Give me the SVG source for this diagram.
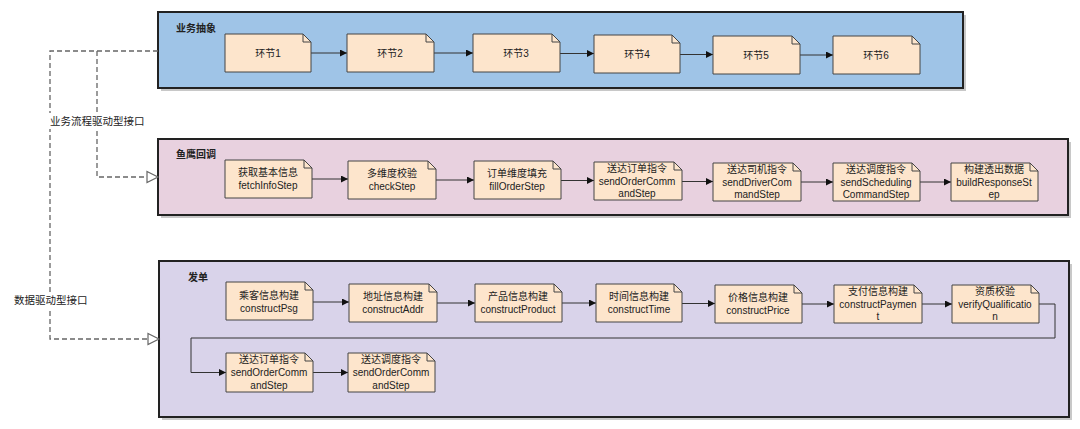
<svg xmlns="http://www.w3.org/2000/svg" width="1080" height="429" viewBox="0 0 1080 429">
<style>
text{font-family:"Liberation Sans","Noto Sans CJK SC",sans-serif;font-size:10px;fill:#222;text-anchor:middle;dominant-baseline:central}
.title{font-weight:bold;text-anchor:start}
.lbl{font-size:10.5px;text-anchor:start}
.cont{stroke:#222;stroke-width:2}
.shadow{fill:#9a9a9a;opacity:.55}
.node{fill:#fde5cc;stroke:#444;stroke-width:1}
.fold{fill:none;stroke:#444;stroke-width:1}
.conn{fill:none;stroke:#333;stroke-width:1;marker-end:url(#arr)}
.dash{fill:none;stroke:#666;stroke-width:1.3;stroke-dasharray:5,3}
</style>
<defs>
<marker id="arr" viewBox="0 0 10 10" refX="10" refY="5" markerWidth="7" markerHeight="7" markerUnits="userSpaceOnUse" orient="auto"><path d="M0,0 L10,5 L0,10 Z" fill="#111"/></marker>
<symbol id="note" overflow="visible"><path d="M0,0 H79 L87,8 V38 H0 Z"/></symbol>
</defs>
<rect width="1080" height="429" fill="#fff"/>

<g id="c-yewu">
<rect x="161" y="15" width="805" height="76" class="shadow"/>
<rect x="158" y="12" width="805" height="76" fill="#9fc4e7" class="cont"/>
<text x="176" y="28" class="title">业务抽象</text>
</g>
<g id="c-yuying">
<rect x="161" y="142" width="910" height="76" class="shadow"/>
<rect x="158" y="139" width="910" height="76" fill="#e8d1df" class="cont"/>
<text x="176" y="154" class="title">鱼鹰回调</text>
</g>
<g id="c-fadan">
<rect x="162" y="264" width="910" height="156" class="shadow"/>
<rect x="159" y="261" width="910" height="156" fill="#d9d3ea" class="cont"/>
<text x="188" y="277" class="title">发单</text>
</g>

<g id="connectors">
<path class="conn" d="M311,53 H347"/>
<path class="conn" d="M434,53 H473"/>
<path class="conn" d="M560,53.5 H594"/>
<path class="conn" d="M680,54.5 H713"/>
<path class="conn" d="M800,55 H833"/>

<path class="conn" d="M312,179 H348"/>
<path class="conn" d="M436,180 H474"/>
<path class="conn" d="M561,180.5 H594"/>
<path class="conn" d="M682,181.5 H713"/>
<path class="conn" d="M801,182 H833"/>
<path class="conn" d="M920,182 H951"/>

<path class="conn" d="M313,302 H349"/>
<path class="conn" d="M437,303 H475"/>
<path class="conn" d="M562,303 H596"/>
<path class="conn" d="M682,303.5 H715"/>
<path class="conn" d="M802,304 H834"/>
<path class="conn" d="M922,304 H952"/>
<path class="conn" d="M1039,304 H1055 V338 H191 V372.5 H226"/>
<path class="conn" d="M313,372.5 H348"/>

<path class="dash" d="M158,51 H50 V339 H148"/>
<path class="dash" d="M97,51 V177 H148"/>
<path d="M147,171.5 L158,177 L147,182.5 Z" fill="#fff" stroke="#666" stroke-width="1.2"/>
<path d="M148,333.5 L159,339 L148,344.5 Z" fill="#fff" stroke="#666" stroke-width="1.2"/>
<rect x="49" y="113" width="96" height="16" fill="#fff"/>
<text x="50" y="121" class="lbl">业务流程驱动型接口</text>
<rect x="13" y="292" width="75" height="16" fill="#fff"/>
<text x="14" y="300" class="lbl">数据驱动型接口</text>
</g>

<g id="n1"><path class="node" d="M225,34 H303 L311,42 V72 H225 Z"/><path class="fold" d="M303,34 V42 H311"/><text x="268" y="53">环节1</text></g>
<g id="n2"><path class="node" d="M347,34 H426 L434,42 V72 H347 Z"/><path class="fold" d="M426,34 V42 H434"/><text x="390" y="53">环节2</text></g>
<g id="n3"><path class="node" d="M473,34 H552 L560,42 V72 H473 Z"/><path class="fold" d="M552,34 V42 H560"/><text x="516" y="53">环节3</text></g>
<g id="n4"><path class="node" d="M594,35 H672 L680,43 V73 H594 Z"/><path class="fold" d="M672,35 V43 H680"/><text x="637" y="54">环节4</text></g>
<g id="n5"><path class="node" d="M713,36 H792 L800,44 V74 H713 Z"/><path class="fold" d="M792,36 V44 H800"/><text x="756" y="55">环节5</text></g>
<g id="n6"><path class="node" d="M833,36 H912 L920,44 V74 H833 Z"/><path class="fold" d="M912,36 V44 H920"/><text x="876" y="55">环节6</text></g>

<g id="a1"><path class="node" d="M225,160 H304 L312,168 V198 H225 Z"/><path class="fold" d="M304,160 V168 H312"/><text x="268" y="172.5">获取基本信息</text><text x="268" y="185">fetchInfoStep</text></g>
<g id="a2"><path class="node" d="M348,161 H428 L436,169 V199 H348 Z"/><path class="fold" d="M428,161 V169 H436"/><text x="392" y="173.5">多维度校验</text><text x="392" y="186">checkStep</text></g>
<g id="a3"><path class="node" d="M474,161 H553 L561,169 V199 H474 Z"/><path class="fold" d="M553,161 V169 H561"/><text x="517" y="173.5">订单维度填充</text><text x="517" y="186">fillOrderStep</text></g>
<g id="a4"><path class="node" d="M594,162 H674 L682,170 V200 H594 Z"/><path class="fold" d="M674,162 V170 H682"/><text x="637" y="168.5">送达订单指令</text><text x="637" y="181">sendOrderComm</text><text x="637" y="193">andStep</text></g>
<g id="a5"><path class="node" d="M713,163 H793 L801,171 V201 H713 Z"/><path class="fold" d="M793,163 V171 H801"/><text x="757" y="169">送达司机指令</text><text x="757" y="182">sendDriverCom</text><text x="757" y="194">mandStep</text></g>
<g id="a6"><path class="node" d="M833,163 H912 L920,171 V201 H833 Z"/><path class="fold" d="M912,163 V171 H920"/><text x="876" y="169">送达调度指令</text><text x="876" y="182">sendScheduling</text><text x="876" y="194">CommandStep</text></g>
<g id="a7"><path class="node" d="M951,163 H1030 L1038,171 V201 H951 Z"/><path class="fold" d="M1030,163 V171 H1038"/><text x="994" y="169">构建透出数据</text><text x="994" y="182">buildResponseSt</text><text x="994" y="194">ep</text></g>

<g id="b1"><path class="node" d="M226,282 H305 L313,290 V320 H226 Z"/><path class="fold" d="M305,282 V290 H313"/><text x="269" y="295">乘客信息构建</text><text x="269" y="308">constructPsg</text></g>
<g id="b2"><path class="node" d="M349,284 H429 L437,292 V322 H349 Z"/><path class="fold" d="M429,284 V292 H437"/><text x="393" y="296.5">地址信息构建</text><text x="393" y="309">constructAddr</text></g>
<g id="b3"><path class="node" d="M475,284 H554 L562,292 V322 H475 Z"/><path class="fold" d="M554,284 V292 H562"/><text x="518" y="296.5">产品信息构建</text><text x="518" y="309">constructProduct</text></g>
<g id="b4"><path class="node" d="M596,284 H674 L682,292 V322 H596 Z"/><path class="fold" d="M674,284 V292 H682"/><text x="639" y="296.5">时间信息构建</text><text x="639" y="309">constructTime</text></g>
<g id="b5"><path class="node" d="M715,285 H794 L802,293 V323 H715 Z"/><path class="fold" d="M794,285 V293 H802"/><text x="758" y="297.5">价格信息构建</text><text x="758" y="310">constructPrice</text></g>
<g id="b6"><path class="node" d="M834,285 H914 L922,293 V323 H834 Z"/><path class="fold" d="M914,285 V293 H922"/><text x="878" y="291.5">支付信息构建</text><text x="878" y="304">constructPaymen</text><text x="878" y="316">t</text></g>
<g id="b7"><path class="node" d="M952,285 H1031 L1039,293 V323 H952 Z"/><path class="fold" d="M1031,285 V293 H1039"/><text x="995" y="291.5">资质校验</text><text x="995" y="304">verifyQualificatio</text><text x="995" y="316">n</text></g>

<g id="c1"><path class="node" d="M226,353 H305 L313,361 V392 H226 Z"/><path class="fold" d="M305,353 V361 H313"/><text x="269" y="359.5">送达订单指令</text><text x="269" y="372.5">sendOrderComm</text><text x="269" y="385">andStep</text></g>
<g id="c2"><path class="node" d="M348,353 H427 L435,361 V392 H348 Z"/><path class="fold" d="M427,353 V361 H435"/><text x="391" y="359.5">送达调度指令</text><text x="391" y="372.5">sendOrderComm</text><text x="391" y="385">andStep</text></g>
</svg>
